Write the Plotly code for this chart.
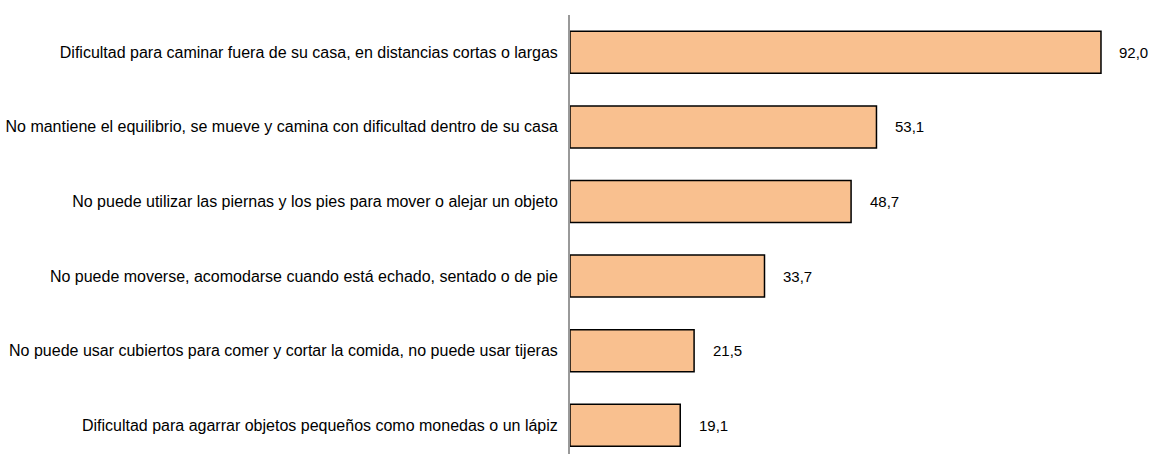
import plotly.graph_objects as go

categories = [
    "Dificultad para caminar fuera de su casa, en distancias cortas o largas",
    "No mantiene el equilibrio, se mueve y camina con dificultad dentro de su casa",
    "No puede utilizar las piernas y los pies para mover o alejar un objeto",
    "No puede moverse, acomodarse cuando está echado, sentado o de pie",
    "No puede usar cubiertos para comer y cortar la comida, no puede usar tijeras",
    "Dificultad para agarrar objetos pequeños como monedas o un lápiz",
]
values = [92.0, 53.1, 48.7, 33.7, 21.5, 19.1]
labels = [f"{v:.1f}".replace(".", ",") for v in values]

FONT = "Liberation Sans, Arial, sans-serif"

fig = go.Figure(
    go.Bar(
        x=values,
        y=categories,
        orientation="h",
        marker=dict(color="#F9C08F", line=dict(color="#000000", width=1.5)),
        width=0.563,
        hoverinfo="skip",
    )
)

for c, v, t in zip(categories, values, labels):
    fig.add_annotation(
        x=v, y=c, text=t, showarrow=False, xanchor="center", xshift=33,
        font=dict(family=FONT, size=15, color="#000000"),
    )

fig.update_layout(
    width=1151,
    height=454,
    margin=dict(l=570, r=20, t=15, b=0),
    paper_bgcolor="white",
    plot_bgcolor="white",
    showlegend=False,
    font=dict(family=FONT, size=16, color="#000000"),
    xaxis=dict(range=[0, 97.2], showgrid=False, showticklabels=False,
               zeroline=False, showline=False, ticks="", automargin=False),
    yaxis=dict(
        categoryorder="array", categoryarray=categories,
        range=[5.385, -0.5], showgrid=False, zeroline=False,
        showline=True, linecolor="#999999", linewidth=2, ticks="",
        ticklabelstandoff=7, automargin=False,
    ),
)

fig.write_html(
    "out.html",
    config={"displayModeBar": False},
    post_script="document.body.style.margin='0';document.body.style.overflow='hidden';",
)
